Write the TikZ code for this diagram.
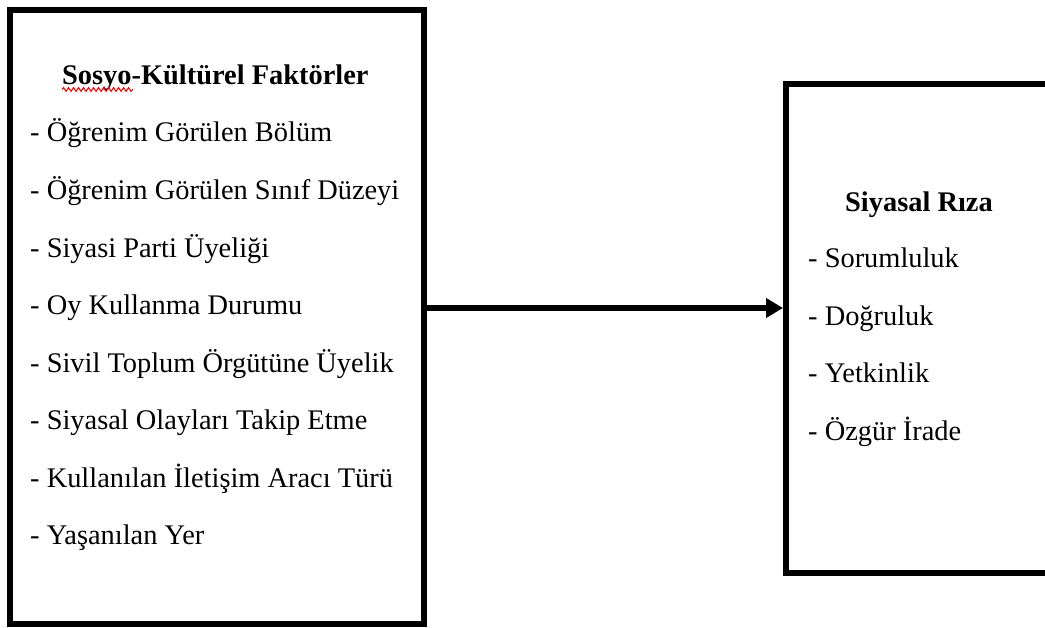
\documentclass[tikz,border=0pt]{standalone}
\usepackage{fontspec}
\setmainfont{Liberation Serif}
\usetikzlibrary{arrows.meta,decorations.pathmorphing}
\begin{document}
\begin{tikzpicture}[x=1pt,y=-1pt,
  boxstyle/.style={draw=black,line width=6pt,rectangle,inner sep=0pt},
  item/.style={anchor=base west,inner sep=0pt,font=\fontsize{28.4}{34}\selectfont},
  head/.style={anchor=base west,inner sep=0pt,font=\fontsize{28.4}{34}\selectfont\bfseries},
  conn/.style={line width=6pt,-{Triangle[length=17pt,width=19pt]}}]
\useasboundingbox (0,0) rectangle (1045,628);
\clip (0,0) rectangle (1045,628);
\node[boxstyle,minimum width=414pt,minimum height=614pt] (L) at (217,317) {};
\node[boxstyle,minimum width=263pt,minimum height=489pt] (R) at (917.5,328.5) {};
% left box texts
\node[head] (lt) at (62,85) {Sosyo-Kültürel Faktörler};
\node[item] (l1) at (30,142) {- Öğrenim Görülen Bölüm};
\node[item] (l2) at (30,200) {- Öğrenim Görülen Sınıf Düzeyi};
\node[item] (l3) at (30,258) {- Siyasi Parti Üyeliği};
\node[item] (l4) at (30,315) {- Oy Kullanma Durumu};
\node[item] (l5) at (30,373) {- Sivil Toplum Örgütüne Üyelik};
\node[item] (l6) at (30,430) {- Siyasal Olayları Takip Etme};
\node[item] (l7) at (30,487) {- Kullanılan İletişim Aracı Türü};
\node[item] (l8) at (30,544) {- Yaşanılan Yer};
% spell-check squiggle
\draw[red,line width=1.1pt,decorate,decoration={snake,segment length=5pt,amplitude=1.8pt}] (62,89.5) -- (133,89.5);
% right box texts
\node[head] (rt) at (845,212) {Siyasal Rıza};
\node[item] (r1) at (808,268) {- Sorumluluk};
\node[item] (r2) at (808,326) {- Doğruluk};
\node[item] (r3) at (808,383) {- Yetkinlik};
\node[item] (r4) at (808,440) {- Özgür İrade};
% connector
\draw[conn] (L.east |- 0,308) -- (R.west |- 0,308);
\end{tikzpicture}
\end{document}
